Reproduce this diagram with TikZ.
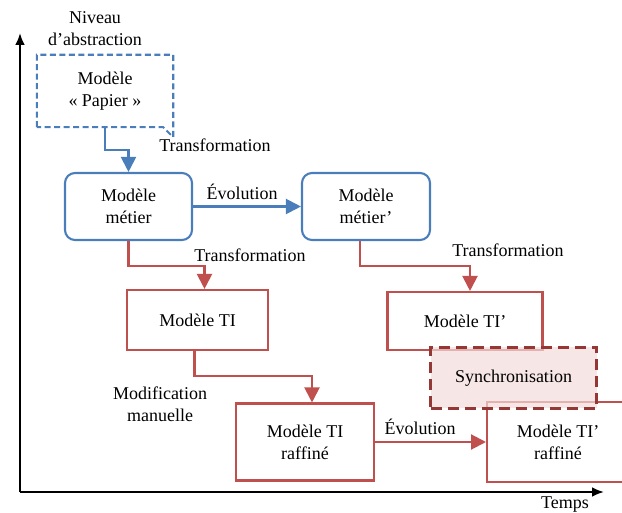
\documentclass[tikz,border=0pt]{standalone}
\usepackage{fontspec}
\setmainfont{Liberation Serif}
\usetikzlibrary{arrows.meta}
\definecolor{bleu}{HTML}{4A7EBB}
\definecolor{rouge}{HTML}{C0504D}
\definecolor{rougefonce}{HTML}{953735}
\definecolor{rose}{HTML}{F2DCDB}
\begin{document}
\begin{tikzpicture}[x=1pt,y=-1pt,
  every node/.style={font=\fontsize{18}{22}\selectfont, align=center, inner sep=0pt},
  bluebox/.style={draw=bleu, line width=2.1pt, rounded corners=10pt},
  redbox/.style={draw=rouge, line width=2.1pt},
  bluearrow/.style={draw=bleu, line width=2.1pt, -{Triangle[length=15pt,width=15pt]}},
  redarrow/.style={draw=rouge, line width=2.1pt, -{Triangle[length=15pt,width=15pt]}},
  axis/.style={line width=2.8pt, -{Latex[length=12pt,width=10pt]}}]
\useasboundingbox (0,0) rectangle (622,513);
\clip (0,0) rectangle (622,513);

% axes
\coordinate (origin) at (20,492);
\coordinate (ytop) at (20,33);
\coordinate (xend) at (604,492);
\draw[axis] (origin) -- (ytop);
\draw[axis] (origin) -- (xend);
\node (ylabel) at (95,29) {Niveau\\d’abstraction};
\node (xlabel) at (565,505) {Temps};

% paper model, dashed with a clipped corner
\node (paper) [minimum width=136pt, minimum height=72pt] at (105,91) {Modèle\\« Papier »};
\draw[bleu, line width=2.1pt, dash pattern=on 6pt off 3.5pt]
  (paper.south west) -- (paper.north west) -- (paper.north east)
  -- ([yshift=-10pt]paper.south east) -- ([xshift=-10pt]paper.south east) -- cycle;

% models
\node (metier) [bluebox, minimum width=127pt, minimum height=67pt] at (128.5,206.5) {Modèle\\métier};
\node (metier2) [bluebox, minimum width=128pt, minimum height=67pt] at (366,206.5) {Modèle\\métier’};
\node (ti) [redbox, minimum width=141pt, minimum height=60pt] at (197.5,320) {Modèle TI};
\node (ti2) [redbox, minimum width=155pt, minimum height=58pt] at (465,321) {Modèle TI’};
\node (raff) [redbox, minimum width=138pt, minimum height=77pt] at (305,442) {Modèle TI\\raffiné};
\node (raff2) [redbox, minimum width=142pt, minimum height=80pt, anchor=west] at (486,442) {Modèle TI’\\raffiné};

% connectors
\draw[bluearrow] (paper.south) -- ++(0,23) -| (metier.north);
\draw[bluearrow] (metier.east) -- (metier2.west);
\draw[redarrow] (metier.south) -- ++(0,25) -| ([xshift=7pt]ti.north);
\draw[redarrow] ([xshift=-3pt]ti.south) -- ++(0,25) -| ([xshift=7pt]raff.north);
\draw[redarrow] ([xshift=-6pt]metier2.south) -- ++(0,25) -| ([xshift=5pt]ti2.north);
\draw[redarrow] (raff.east) -- (raff2.west);

% labels
\node (t1) at (215,145) {Transformation};
\node (t2) at (250,255) {Transformation};
\node (t3) at (508,250) {Transformation};
\node (e1) at (242,192) {Évolution};
\node (e2) at (420,427) {Évolution};
\node (mm) at (160,404) {Modification\\manuelle};

% synchronisation, laid over both TI' boxes
\node (sync) [fill=rose, fill opacity=0.7, text opacity=1, draw=rougefonce, line width=3.8pt,
  dash pattern=on 11pt off 6pt, minimum width=166pt, minimum height=61pt] at (513.5,378) {Synchronisation};
\end{tikzpicture}
\end{document}
